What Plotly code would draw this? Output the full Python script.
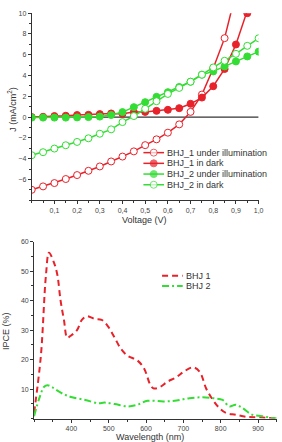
import plotly.graph_objects as go

# ---------------- data ----------------
voltage = [0.0, 0.05, 0.1, 0.15, 0.2, 0.25, 0.3, 0.35, 0.4, 0.45, 0.5,
           0.55, 0.6, 0.65, 0.7, 0.75, 0.8, 0.85, 0.9, 0.95, 1.0]

bhj1_light = [-7.0, -6.67, -6.35, -5.96, -5.58, -5.17, -4.75, -4.27, -3.8, -3.3, -2.7,
              -2.14, -1.5, -0.7, 0.5, 2.17, 4.7, 7.6, 12.0]
bhj1_dark = [0.0, 0.03, 0.1, 0.13, 0.2, 0.22, 0.29, 0.35, 0.32, 0.48, 0.5,
             0.6, 0.7, 0.86, 1.28, 1.88, 2.97, 4.63, 6.99, 10.0, 13.5]
bhj2_light = [-0.05, -0.05, -0.05, -0.05, -0.03, 0.0, 0.05, 0.2, 0.48, 0.96, 1.44,
              1.95, 2.4, 2.9, 3.4, 4.08, 4.4, 4.88, 5.36, 5.84, 6.3]
bhj2_dark = [-3.67, -3.38, -3.03, -2.71, -2.39, -2.04, -1.6, -1.18, -0.48, 0.1, 0.8,
             1.53, 2.23, 2.81, 3.41, 4.08, 4.78, 5.42, 6.09, 6.86, 7.59]

wl1 = [300, 318, 332, 340, 353, 362, 371, 380, 389, 397, 415, 428, 441, 463, 481, 498,
       516, 533, 551, 577, 595, 612, 621, 639, 656, 682, 700, 726, 744, 761, 779, 796,
       814, 840, 867, 902, 950]
ipce1 = [2.0, 21.0, 49.0, 56.3, 53.0, 49.0, 40.0, 33.5, 27.4, 28.0, 30.0, 33.5, 34.7, 33.8,
         33.5, 31.3, 27.4, 23.6, 21.3, 19.7, 16.9, 11.3, 10.2, 10.8, 12.4, 14.1, 15.8, 17.4,
         15.8, 10.2, 6.3, 3.6, 1.9, 1.3, 0.6, 0.4, 0.0]
wl2 = [300, 314, 327, 336, 349, 367, 384, 402, 437, 472, 489, 516, 551, 577, 604, 647,
       682, 716, 751, 779, 805, 823, 840, 858, 884, 911, 937, 950]
ipce2 = [0.8, 6.9, 10.8, 11.3, 10.6, 9.1, 8.0, 7.2, 6.3, 5.2, 5.4, 4.9, 4.1, 4.7, 6.0, 5.8,
         6.1, 6.9, 7.2, 6.9, 6.3, 4.1, 4.7, 3.6, 1.3, 0.8, 0.2, 0.0]

jv_names = ["BHJ_1 under illumination", "BHJ_1 in dark",
            "BHJ_2 under illumination", "BHJ_2 in dark"]
ipce_names = ["BHJ 1", "BHJ 2"]

v_ticks = [0.1, 0.2, 0.3, 0.4, 0.5, 0.6, 0.7, 0.8, 0.9, 1.0]
v_ticktext = ["0,1", "0,2", "0,3", "0,4", "0,5", "0,6", "0,7", "0,8", "0,9", "1,0"]
j_ticks = [-6, -4, -2, 0, 2, 4, 6, 8, 10]
wl_ticks = [400, 500, 600, 700, 800, 900]
ipce_ticks = [10, 20, 30, 40, 50, 60]

# ---------------- style ----------------
RED = "#e8222a"
GREEN = "#33dd33"
W, H = 282, 442
FONT = "Liberation Sans, Arial, sans-serif"
TICKC = "#444444"

fig = go.Figure()

jv_series = [
    (bhj1_light, RED, True),
    (bhj1_dark, RED, False),
    (bhj2_light, GREEN, False),
    (bhj2_dark, GREEN, True),
]
for (vals, col, hollow), name in zip(jv_series, jv_names):
    fig.add_trace(go.Scatter(
        x=voltage[:len(vals)], y=vals, name=name, mode="lines+markers",
        line=dict(color=col, width=1.5),
        marker=dict(symbol="circle", size=7, color="white" if hollow else col,
                    line=dict(color=col, width=1)),
        xaxis="x", yaxis="y", showlegend=False))

fig.add_trace(go.Scatter(x=wl1, y=ipce1, name=ipce_names[0], mode="lines",
                         line=dict(color=RED, width=2, dash="6px,4px", shape="spline"),
                         xaxis="x2", yaxis="y2", showlegend=False))
fig.add_trace(go.Scatter(x=wl2, y=ipce2, name=ipce_names[1], mode="lines",
                         line=dict(color=GREEN, width=2, dash="7px,3px,2px,3px", shape="spline"),
                         xaxis="x2", yaxis="y2", showlegend=False))

# ---------------- manual legends (pixel overlay axis) ----------------
leg1_x0, leg1_x1, leg1_y0, leg1_dy = 146, 167, 150, 10.8
for i, ((vals, col, hollow), name) in enumerate(zip(jv_series, jv_names)):
    yy = leg1_y0 + i * leg1_dy
    fig.add_trace(go.Scatter(
        x=[leg1_x0, (leg1_x0 + leg1_x1) / 2, leg1_x1], y=[yy, yy, yy],
        mode="lines+markers", line=dict(color=col, width=1.5),
        marker=dict(size=[0, 7, 0], color="white" if hollow else col,
                    line=dict(color=col, width=1)),
        xaxis="x3", yaxis="y3", showlegend=False, hoverinfo="skip"))
    fig.add_annotation(x=leg1_x1 + 1, y=yy, xref="x3", yref="y3", text=name,
                       showarrow=False, xanchor="left", yanchor="middle",
                       font=dict(size=9, color="#333333", family=FONT))

leg2_x0, leg2_x1, leg2_y0, leg2_dy = 165, 186, 274.3, 10.2
leg2_styles = [(RED, "6px,4px"), (GREEN, "7px,3px,2px,3px")]
for i, ((col, dash), name) in enumerate(zip(leg2_styles, ipce_names)):
    yy = leg2_y0 + i * leg2_dy
    fig.add_trace(go.Scatter(x=[leg2_x0, leg2_x1], y=[yy, yy], mode="lines",
                             line=dict(color=col, width=2, dash=dash),
                             xaxis="x3", yaxis="y3", showlegend=False, hoverinfo="skip"))
    fig.add_annotation(x=leg2_x1 + 1, y=yy, xref="x3", yref="y3", text=name,
                       showarrow=False, xanchor="left", yanchor="middle",
                       font=dict(size=9, color="#333333", family=FONT))

# zero line on J-V plot
fig.add_shape(type="line", xref="x", yref="y", x0=0, x1=1.0, y0=0, y1=0,
              line=dict(color="black", width=1), layer="below")

# axis titles
fig.add_annotation(x=147, y=218, xref="x3", yref="y3", text="Voltage (V)", showarrow=False,
                   font=dict(size=9, color="#333333", family=FONT))
fig.add_annotation(x=12, y=106, xref="x3", yref="y3", text="J (mA/cm<sup>2</sup>)",
                   showarrow=False, textangle=-90,
                   font=dict(size=9, color="#333333", family=FONT))
fig.add_annotation(x=153, y=437, xref="x3", yref="y3", text="Wavelength (nm)", showarrow=False,
                   font=dict(size=9, color="#333333", family=FONT))
fig.add_annotation(x=6, y=330, xref="x3", yref="y3", text="IPCE (%)", showarrow=False,
                   textangle=-90, font=dict(size=9, color="#333333", family=FONT))

axis_common = dict(showgrid=False, zeroline=False, showline=True, linecolor="#333333",
                   linewidth=1, ticks="outside", ticklen=3, tickcolor="#333333",
                   tickfont=dict(size=7, color=TICKC, family=FONT), fixedrange=True)

fig.update_layout(
    width=W, height=H, margin=dict(l=0, r=0, t=0, b=0),
    paper_bgcolor="white", plot_bgcolor="rgba(0,0,0,0)", showlegend=False,
    font=dict(family=FONT),
    xaxis=dict(domain=[32.3 / W, 263.3 / W], range=[0, 1.0], anchor="y",
               tickvals=v_ticks, ticktext=v_ticktext,
               minor=dict(ticks="outside", ticklen=2, dtick=0.05, tick0=0, tickcolor="#333333"),
               **axis_common),
    yaxis=dict(domain=[1 - 198 / H, 1 - 9.3 / H], range=[-8, 10], anchor="x",
               tickvals=j_ticks,
               minor=dict(ticks="outside", ticklen=2, dtick=1, tick0=0, tickcolor="#333333"),
               **axis_common),
    xaxis2=dict(domain=[34.7 / W, 281.7 / W], range=[300, 950], anchor="y2",
                tickvals=wl_ticks,
                minor=dict(ticks="outside", ticklen=2, dtick=50, tick0=0, tickcolor="#333333"),
                **axis_common),
    yaxis2=dict(domain=[1 - 418.3 / H, 1 - 240 / H], range=[0, 60], anchor="x2",
                tickvals=ipce_ticks,
                minor=dict(ticks="outside", ticklen=2, dtick=5, tick0=0, tickcolor="#333333"),
                **axis_common),
    xaxis3=dict(domain=[0, 1], range=[0, W], visible=False, anchor="y3", fixedrange=True),
    yaxis3=dict(domain=[0, 1], range=[H, 0], visible=False, anchor="x3", fixedrange=True),
)

fig.write_html("out.html")
